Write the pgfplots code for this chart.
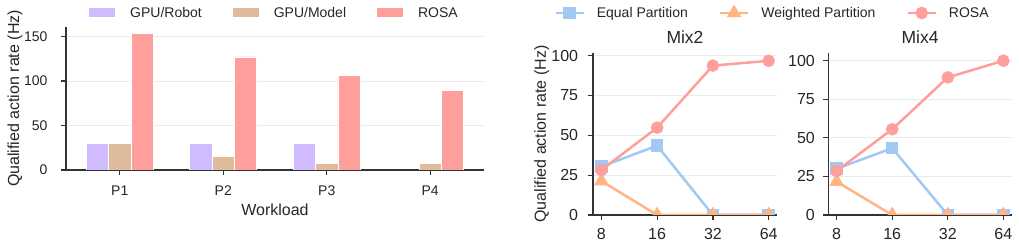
\documentclass[border=0pt]{standalone}
\usepackage{fontspec}
\setmainfont{Liberation Sans}
\usepackage{pgfplots}
\pgfplotsset{compat=1.18}
\definecolor{cpurple}{HTML}{D0BBFF}
\definecolor{cbrown}{HTML}{DEBB9B}
\definecolor{cred}{HTML}{FF9F9B}
\definecolor{cblue}{HTML}{A1C9F4}
\definecolor{corange}{HTML}{FFB482}
\definecolor{txt}{HTML}{262626}
\definecolor{spine}{HTML}{333333}
\definecolor{gridc}{HTML}{EBEBEB}
\pgfplotsset{
  common/.style={
    scale only axis,
    axis x line*=bottom, axis y line*=left,
    axis line style={spine, line width=1.25bp, -},
    tick align=outside,
    major tick length=5bp,
    tick style={spine, line width=1.25bp},
    ymajorgrids, grid style={gridc, line width=1bp},
    /pgf/number format/assume math mode=true,
    label style={font=\fontsize{16bp}{19bp}\selectfont, text=txt},
    title style={font=\fontsize{17.5bp}{20bp}\selectfont, text=txt},
    legend style={draw=none, fill=none, font=\fontsize{14bp}{16bp}\selectfont, text=txt},
  },
  barleg/.style={legend image code/.code={\fill[##1, draw=none] (0bp,-4.5bp) rectangle (26bp,4.5bp);}},
  lineleg/.style={legend image code/.code={\draw[##1, mark repeat=2, mark phase=2] plot coordinates {(0bp,0bp) (14bp,0bp) (28bp,0bp)};}},
}
\begin{document}
\begin{tikzpicture}
\useasboundingbox (0,0) rectangle (1019bp,246bp);
% ---------------- Left: bar chart
\begin{axis}[common, at={(66bp,76bp)}, anchor=south west, width=418bp, height=143bp,
  xmin=-0.52, xmax=3.52, ymin=0, ymax=160.7,
  xtick={0,1,2,3}, xticklabels={P1,P2,P3,P4},
  ytick={0,50,100,150},
  tick label style={font=\fontsize{14bp}{16bp}\selectfont, text=txt},
  xticklabel style={inner sep=0pt, anchor=north, yshift=-11bp},
  yticklabel style={inner sep=0pt, anchor=east, xshift=-13.3bp},
  xlabel={Workload}, ylabel={Qualified action rate (Hz)},
  xlabel style={at={(axis description cs:0.5,-0.28)}, anchor=center},
  ylabel style={at={(axis description cs:-0.122,0.5)}, anchor=center},
  bar width=22.4bp,
  legend columns=3,
  legend style={at={(axis description cs:0.4988,1.098)}, anchor=center,
    /tikz/every odd column/.append style={column sep=13bp},
    /tikz/every even column/.append style={column sep=29bp}},
  barleg,
]
\addplot[ybar, fill=cpurple, draw=white, line width=0.8bp, bar shift=-22.4bp] coordinates {(0,29.6) (1,29.8) (2,29.6) (3,0)};
\addplot[ybar, fill=cbrown, draw=white, line width=0.8bp, bar shift=0bp] coordinates {(0,30.2) (1,15) (2,7) (3,7)};
\addplot[ybar, fill=cred, draw=white, line width=0.8bp, bar shift=22.4bp] coordinates {(0,153) (1,127) (2,106) (3,89)};
\legend{GPU/Robot, GPU/Model, ROSA}
\end{axis}
% ---------------- Mix2
\begin{axis}[common, at={(593bp,31bp)}, anchor=south west, width=184bp, height=162bp,
  xmode=log, log basis x=2, xmin=7.21, xmax=71.0, ymin=0, ymax=101.6,
  xtick={8,16,32,64}, xticklabels={8,16,32,64}, minor x tick num=0,
  ytick={0,25,50,75,100},
  tick label style={font=\fontsize{16bp}{19bp}\selectfont, text=txt},
  xticklabel style={inner sep=0pt, anchor=north, yshift=-7.7bp},
  yticklabel style={inner sep=0pt, anchor=east, xshift=-9.7bp},
  title={Mix2}, title style={at={(axis description cs:0.5,1)}, anchor=base, yshift=3.7bp},
  ylabel={Qualified action rate (Hz)},
  ylabel style={at={(axis description cs:-0.279,0.5)}, anchor=center},
  clip marker paths=true,
  legend columns=3,
  legend style={at={(axis description cs:0.9755,1.247)}, anchor=center,
    /tikz/every odd column/.append style={column sep=10bp},
    /tikz/every even column/.append style={column sep=29bp}},
  lineleg,
]
\addplot[cblue, line width=2.5bp, mark=square*, mark size=5bp, mark options={draw=none, fill=cblue}] coordinates {(8,30.3) (16,43.5) (32,0) (64,0)};
\addplot[corange, line width=2.5bp, mark=triangle*, mark size=6bp, mark options={draw=none, fill=corange}] coordinates {(8,21.3) (16,0) (32,0) (64,0)};
\addplot[cred, line width=2.5bp, mark=*, mark size=5bp, mark options={draw=none, fill=cred}] coordinates {(8,28.2) (16,54.8) (32,93.7) (64,96.7)};
\legend{Equal Partition, Weighted Partition, ROSA}
\end{axis}
% ---------------- Mix4
\begin{axis}[common, at={(828.3bp,31bp)}, anchor=south west, width=183.4bp, height=162bp,
  xmode=log, log basis x=2, xmin=7.21, xmax=71.0, ymin=0, ymax=105,
  xtick={8,16,32,64}, xticklabels={8,16,32,64}, minor x tick num=0,
  ytick={0,25,50,75,100},
  tick label style={font=\fontsize{16bp}{19bp}\selectfont, text=txt},
  xticklabel style={inner sep=0pt, anchor=north, yshift=-7.7bp},
  yticklabel style={inner sep=0pt, anchor=east, xshift=-8.3bp},
  title={Mix4}, title style={at={(axis description cs:0.5,1)}, anchor=base, yshift=3.7bp},
  clip marker paths=true,
]
\addplot[cblue, line width=2.5bp, mark=square*, mark size=5bp, mark options={draw=none, fill=cblue}] coordinates {(8,30) (16,43.3) (32,0) (64,0)};
\addplot[corange, line width=2.5bp, mark=triangle*, mark size=6bp, mark options={draw=none, fill=corange}] coordinates {(8,21.6) (16,0) (32,0) (64,0)};
\addplot[cred, line width=2.5bp, mark=*, mark size=5bp, mark options={draw=none, fill=cred}] coordinates {(8,28.6) (16,55.6) (32,89.2) (64,100)};
\end{axis}
\end{tikzpicture}
\end{document}
